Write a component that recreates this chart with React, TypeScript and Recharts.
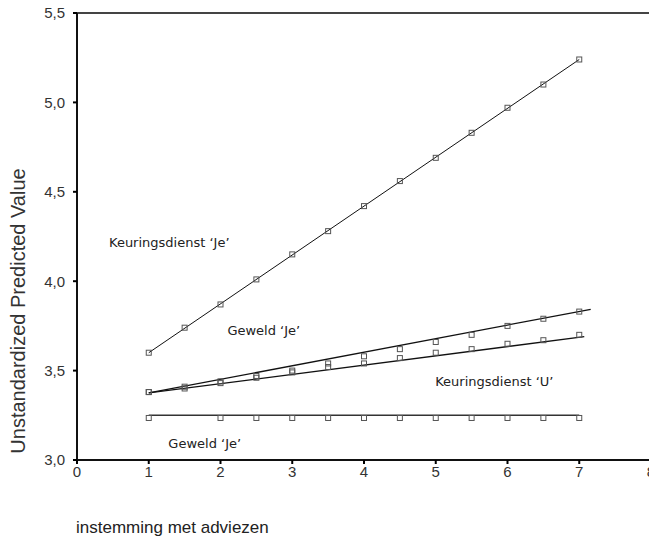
import {
  ComposedChart,
  Line,
  Scatter,
  XAxis,
  YAxis,
  ReferenceLine,
  ReferenceDot,
  Label,
} from "recharts";

// x positions of the observed points
const xValues = [1, 1.5, 2, 2.5, 3, 3.5, 4, 4.5, 5, 5.5, 6, 6.5, 7];

// predicted values per group
const keurJe = [3.6, 3.74, 3.87, 4.01, 4.15, 4.28, 4.42, 4.56, 4.69, 4.83, 4.97, 5.1, 5.24];
const geweldJeUp = [3.38, 3.41, 3.44, 3.47, 3.5, 3.54, 3.58, 3.62, 3.66, 3.7, 3.75, 3.79, 3.83];
const keurU = [3.38, 3.4, 3.43, 3.46, 3.49, 3.52, 3.54, 3.57, 3.6, 3.62, 3.65, 3.67, 3.7];
const geweldJeLow = [3.235, null, 3.235, 3.235, 3.235, 3.235, 3.235, 3.235, 3.235, 3.235, 3.235, 3.235, 3.235];

// fitted lines (start and end points)
const fitKeurJe = [
  { x: 1, y: 3.6 },
  { x: 7, y: 5.24 },
];
const fitGeweldJeUp = [
  { x: 1, y: 3.375 },
  { x: 7.16, y: 3.843 },
];
const fitKeurU = [
  { x: 1, y: 3.375 },
  { x: 7.07, y: 3.69 },
];
const fitGeweldJeLow = [
  { x: 1, y: 3.25 },
  { x: 7, y: 3.25 },
];

const xTicks = [0, 1, 2, 3, 4, 5, 6, 7, 8];
const yTicks = [3, 3.5, 4, 4.5, 5, 5.5];

const toPoints = (vals: (number | null)[]) =>
  xValues
    .map((x, i) => ({ x, y: vals[i] }))
    .filter((p) => p.y !== null);

const Square = (props: any) => {
  const { cx, cy } = props;
  if (cx == null || cy == null) return null;
  return (
    <rect x={cx - 2.5} y={cy - 2.5} width={5} height={5} fill="none" stroke="#555" strokeWidth={1} />
  );
};

const tickStyle = { fill: "#333", fontSize: 15, fontFamily: "Liberation Sans, Arial, sans-serif" };
const noteStyle = { fill: "#222", fontSize: 13, fontFamily: "DejaVu Sans, sans-serif" };

const fmt = (v: number) => v.toFixed(1).replace(".", ",");

export default function App() {
  return (
    <div
      style={{
        position: "fixed",
        left: 0,
        top: 0,
        width: 649,
        height: 539,
        overflow: "hidden",
        background: "#fff",
      }}
    >
      <ComposedChart width={660} height={539} margin={{ top: 13, right: 9, bottom: 49, left: 0 }}>
        <XAxis
          type="number"
          dataKey="x"
          domain={[0, 8]}
          ticks={xTicks}
          allowDataOverflow
          height={30}
          stroke="#111"
          strokeWidth={2}
          tick={tickStyle}
          tickSize={4}
          tickMargin={2}
          tickLine={{ stroke: "#000", strokeWidth: 2 }}
        >
          <Label
            content={() => (
              <text
                x={76}
                y={527}
                dominantBaseline="central"
                fill="#222"
                fontSize={17}
                fontFamily="Liberation Sans, Arial, sans-serif"
              >
                instemming met adviezen
              </text>
            )}
          />
        </XAxis>
        <YAxis
          type="number"
          domain={[3, 5.5]}
          ticks={yTicks}
          allowDataOverflow
          width={77}
          stroke="#111"
          strokeWidth={2}
          tick={tickStyle}
          tickFormatter={fmt}
          tickSize={4}
          tickMargin={8}
          tickLine={{ stroke: "#000", strokeWidth: 2 }}
        >
          <Label
            content={() => (
              <text
                x={18}
                y={311}
                transform="rotate(-90 18 311)"
                textAnchor="middle"
                dominantBaseline="central"
                fill="#333"
                fontSize={20}
                fontFamily="Liberation Sans, Arial, sans-serif"
              >
                Unstandardized Predicted Value
              </text>
            )}
          />
        </YAxis>
        <ReferenceLine y={5.5} stroke="#444" strokeWidth={2} />

        <Line data={fitKeurJe} dataKey="y" type="linear" stroke="#111" strokeWidth={1} dot={false} isAnimationActive={false} />
        <Line data={fitGeweldJeUp} dataKey="y" type="linear" stroke="#111" strokeWidth={1.3} dot={false} isAnimationActive={false} />
        <Line data={fitKeurU} dataKey="y" type="linear" stroke="#111" strokeWidth={1.3} dot={false} isAnimationActive={false} />
        <Line data={fitGeweldJeLow} dataKey="y" type="linear" stroke="#333" strokeWidth={1.5} dot={false} isAnimationActive={false} />

        <Scatter data={toPoints(keurJe)} dataKey="y" shape={Square} isAnimationActive={false} />
        <Scatter data={toPoints(geweldJeUp)} dataKey="y" shape={Square} isAnimationActive={false} />
        <Scatter data={toPoints(keurU)} dataKey="y" shape={Square} isAnimationActive={false} />
        <Scatter data={toPoints(geweldJeLow)} dataKey="y" shape={Square} isAnimationActive={false} />

        <ReferenceDot x={0.446} y={4.216} r={0} stroke="none" label={{ value: "Keuringsdienst ‘Je’", position: "right", offset: 0, ...noteStyle }} />
        <ReferenceDot x={2.096} y={3.723} r={0} stroke="none" label={{ value: "Geweld ‘Je’", position: "right", offset: 0, ...noteStyle }} />
        <ReferenceDot x={4.993} y={3.442} r={0} stroke="none" label={{ value: "Keuringsdienst ‘U’", position: "right", offset: 0, ...noteStyle }} />
        <ReferenceDot x={1.273} y={3.093} r={0} stroke="none" label={{ value: "Geweld ‘Je’", position: "right", offset: 0, ...noteStyle }} />
      </ComposedChart>
    </div>
  );
}
